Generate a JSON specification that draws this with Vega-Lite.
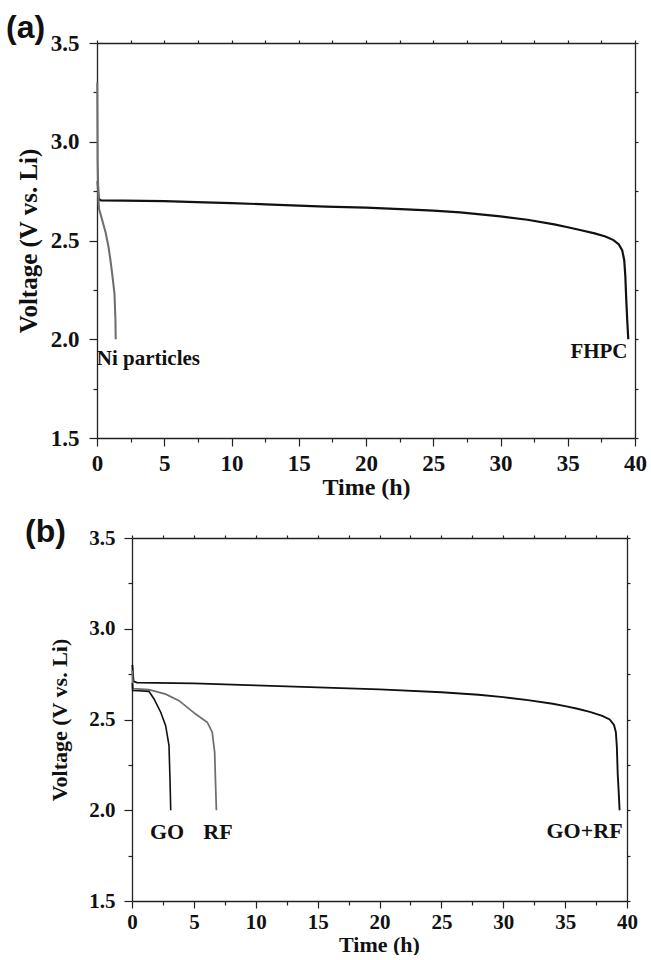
{
  "$schema": "https://vega.github.io/schema/vega-lite/v6.json",
  "padding": {"left": 6, "top": 12, "right": 0, "bottom": 0},
  "background": "white",
  "spacing": 17,
  "config": {
    "view": {"stroke": null},
    "axis": {
      "grid": false,
      "domainColor": "#222222",
      "domainWidth": 1.3,
      "tickColor": "#222222",
      "tickWidth": 1.2,
      "labelFont": "Liberation Serif",
      "labelFontWeight": "bold",
      "labelColor": "#111111",
      "titleFont": "Liberation Serif",
      "titleFontWeight": "bold",
      "titleColor": "#111111",
      "labelFlush": false,
      "labelOverlap": false
    },
    "text": {"font": "Liberation Serif", "fontWeight": "bold", "color": "#111111"}
  },
  "vconcat": [
    {
      "width": 538,
      "height": 395,
      "title": {"text": "(a)", "anchor": "start", "frame": "group", "font": "Liberation Sans", "fontSize": 32, "fontWeight": "bold", "color": "#111111", "dx": -91, "offset": -13},
      "resolve": {"axis": {"x": "independent", "y": "independent"}},
      "layer": [
        {
          "data": {"values": [
            {"series": "FHPC", "t": 0.05, "v": 2.80},
            {"series": "FHPC", "t": 0.12, "v": 2.71},
            {"series": "FHPC", "t": 0.3, "v": 2.703},
            {"series": "FHPC", "t": 2, "v": 2.702},
            {"series": "FHPC", "t": 5, "v": 2.699},
            {"series": "FHPC", "t": 8, "v": 2.693},
            {"series": "FHPC", "t": 10, "v": 2.689},
            {"series": "FHPC", "t": 13, "v": 2.682},
            {"series": "FHPC", "t": 17, "v": 2.672},
            {"series": "FHPC", "t": 20, "v": 2.666},
            {"series": "FHPC", "t": 23, "v": 2.658},
            {"series": "FHPC", "t": 25, "v": 2.651},
            {"series": "FHPC", "t": 27, "v": 2.642},
            {"series": "FHPC", "t": 30, "v": 2.622},
            {"series": "FHPC", "t": 32, "v": 2.605},
            {"series": "FHPC", "t": 34, "v": 2.582},
            {"series": "FHPC", "t": 35, "v": 2.567},
            {"series": "FHPC", "t": 36, "v": 2.552},
            {"series": "FHPC", "t": 37, "v": 2.536},
            {"series": "FHPC", "t": 37.8, "v": 2.52},
            {"series": "FHPC", "t": 38.4, "v": 2.502},
            {"series": "FHPC", "t": 38.8, "v": 2.48},
            {"series": "FHPC", "t": 39.05, "v": 2.45},
            {"series": "FHPC", "t": 39.2, "v": 2.40},
            {"series": "FHPC", "t": 39.28, "v": 2.32},
            {"series": "FHPC", "t": 39.35, "v": 2.2},
            {"series": "FHPC", "t": 39.42, "v": 2.1},
            {"series": "FHPC", "t": 39.5, "v": 2.0},
            {"series": "Ni particles", "t": 0.02, "v": 3.3},
            {"series": "Ni particles", "t": 0.05, "v": 2.9},
            {"series": "Ni particles", "t": 0.1, "v": 2.72},
            {"series": "Ni particles", "t": 0.15, "v": 2.66},
            {"series": "Ni particles", "t": 0.4, "v": 2.6},
            {"series": "Ni particles", "t": 0.64, "v": 2.54},
            {"series": "Ni particles", "t": 0.85, "v": 2.47},
            {"series": "Ni particles", "t": 1.0, "v": 2.40},
            {"series": "Ni particles", "t": 1.15, "v": 2.32},
            {"series": "Ni particles", "t": 1.3, "v": 2.23},
            {"series": "Ni particles", "t": 1.37, "v": 2.1},
            {"series": "Ni particles", "t": 1.39, "v": 2.0}
          ]},
          "mark": {"type": "line"},
          "encoding": {
            "x": {"field": "t", "type": "quantitative", "scale": {"domain": [0, 40], "nice": false, "zero": false},
              "axis": {"orient": "bottom", "title": "Time (h)", "values": [0, 2.5, 5, 7.5, 10, 12.5, 15, 17.5, 20, 22.5, 25, 27.5, 30, 32.5, 35, 37.5, 40],
                "labelExpr": "datum.value % 5 === 0 ? format(datum.value, 'd') : ''",
                "tickSize": {"condition": {"test": "datum.value % 5 === 0", "value": 8}, "value": 4},
                "labelPadding": 6, "titlePadding": 0, "labelFontSize": 23, "titleFontSize": 24}},
            "y": {"field": "v", "type": "quantitative", "scale": {"domain": [1.5, 3.5], "nice": false, "zero": false},
              "axis": {"orient": "left", "title": "Voltage (V vs. Li)", "values": [1.5, 1.75, 2.0, 2.25, 2.5, 2.75, 3.0, 3.25, 3.5],
                "labelExpr": "round(datum.value * 4) % 2 === 0 ? format(datum.value, '.1f') : ''",
                "tickSize": {"condition": {"test": "round(datum.value * 4) % 2 === 0", "value": 8}, "value": 4},
                "labelPadding": 10, "titleX": -56, "titleBaseline": "bottom", "labelFontSize": 23, "titleFontSize": 25}},
            "color": {"field": "series", "type": "nominal", "scale": {"domain": ["FHPC", "Ni particles"], "range": ["#111111", "#6e6e6e"]}, "legend": null},
            "strokeWidth": {"field": "series", "type": "nominal", "scale": {"domain": ["FHPC", "Ni particles"], "range": [2.2, 1.6]}, "legend": null}
          }
        },
        {
          "data": {"values": [
            {"label": "Ni particles", "t": 3.82, "v": 1.87},
            {"label": "FHPC", "t": 37.32, "v": 1.904}
          ]},
          "mark": {"type": "text", "align": "center", "baseline": "alphabetic", "fontSize": 21},
          "encoding": {
            "x": {"field": "t", "type": "quantitative", "scale": {"domain": [0, 40], "nice": false, "zero": false},
              "axis": {"orient": "top", "title": null, "labels": false, "values": [0, 2.5, 5, 7.5, 10, 12.5, 15, 17.5, 20, 22.5, 25, 27.5, 30, 32.5, 35, 37.5, 40], "tickSize": 3}},
            "y": {"field": "v", "type": "quantitative", "scale": {"domain": [1.5, 3.5], "nice": false, "zero": false},
              "axis": {"orient": "right", "title": null, "labels": false, "values": [1.5, 1.75, 2.0, 2.25, 2.5, 2.75, 3.0, 3.25, 3.5], "tickSize": 3}},
            "text": {"field": "label", "type": "nominal"}
          }
        }
      ]
    },
    {
      "width": 530,
      "height": 363,
      "title": {"text": "(b)", "anchor": "start", "frame": "group", "font": "Liberation Sans", "fontSize": 32, "fontWeight": "bold", "color": "#111111", "dx": -72, "offset": -22},
      "resolve": {"axis": {"x": "independent", "y": "independent"}},
      "layer": [
        {
          "data": {"values": [
            {"series": "GO+RF", "t": 0.03, "v": 2.80},
            {"series": "GO+RF", "t": 0.12, "v": 2.71},
            {"series": "GO+RF", "t": 0.4, "v": 2.703},
            {"series": "GO+RF", "t": 2, "v": 2.702},
            {"series": "GO+RF", "t": 5, "v": 2.699},
            {"series": "GO+RF", "t": 10, "v": 2.688},
            {"series": "GO+RF", "t": 15, "v": 2.677},
            {"series": "GO+RF", "t": 20, "v": 2.666},
            {"series": "GO+RF", "t": 25, "v": 2.65},
            {"series": "GO+RF", "t": 28, "v": 2.636},
            {"series": "GO+RF", "t": 30, "v": 2.623},
            {"series": "GO+RF", "t": 32, "v": 2.607},
            {"series": "GO+RF", "t": 34, "v": 2.587},
            {"series": "GO+RF", "t": 35, "v": 2.574},
            {"series": "GO+RF", "t": 36, "v": 2.559},
            {"series": "GO+RF", "t": 37, "v": 2.542},
            {"series": "GO+RF", "t": 38, "v": 2.52},
            {"series": "GO+RF", "t": 38.6, "v": 2.50},
            {"series": "GO+RF", "t": 38.95, "v": 2.47},
            {"series": "GO+RF", "t": 39.1, "v": 2.43},
            {"series": "GO+RF", "t": 39.18, "v": 2.35},
            {"series": "GO+RF", "t": 39.25, "v": 2.2},
            {"series": "GO+RF", "t": 39.33, "v": 2.1},
            {"series": "GO+RF", "t": 39.4, "v": 2.0},
            {"series": "RF", "t": 0.02, "v": 2.77},
            {"series": "RF", "t": 0.08, "v": 2.67},
            {"series": "RF", "t": 1.37, "v": 2.665},
            {"series": "RF", "t": 2.72, "v": 2.64},
            {"series": "RF", "t": 3.8, "v": 2.604},
            {"series": "RF", "t": 5.14, "v": 2.53},
            {"series": "RF", "t": 6.08, "v": 2.485},
            {"series": "RF", "t": 6.48, "v": 2.43},
            {"series": "RF", "t": 6.68, "v": 2.32},
            {"series": "RF", "t": 6.75, "v": 2.15},
            {"series": "RF", "t": 6.82, "v": 2.0},
            {"series": "GO", "t": 0.02, "v": 2.70},
            {"series": "GO", "t": 0.05, "v": 2.66},
            {"series": "GO", "t": 0.5, "v": 2.658},
            {"series": "GO", "t": 1.37, "v": 2.655},
            {"series": "GO", "t": 1.78, "v": 2.613},
            {"series": "GO", "t": 2.32, "v": 2.54},
            {"series": "GO", "t": 2.72, "v": 2.466},
            {"series": "GO", "t": 2.99, "v": 2.356},
            {"series": "GO", "t": 3.07, "v": 2.17},
            {"series": "GO", "t": 3.13, "v": 2.0}
          ]},
          "mark": {"type": "line"},
          "encoding": {
            "x": {"field": "t", "type": "quantitative", "scale": {"domain": [0, 40], "range": [35, 530], "nice": false, "zero": false},
              "axis": {"orient": "bottom", "title": "Time (h)", "titleX": 282, "values": [0, 2.5, 5, 7.5, 10, 12.5, 15, 17.5, 20, 22.5, 25, 27.5, 30, 32.5, 35, 37.5, 40],
                "labelExpr": "datum.value % 5 === 0 ? format(datum.value, 'd') : ''",
                "tickSize": {"condition": {"test": "datum.value % 5 === 0", "value": 7}, "value": 4},
                "labelPadding": 3, "titlePadding": 2, "labelFontSize": 21, "titleFontSize": 22}},
            "y": {"field": "v", "type": "quantitative", "scale": {"domain": [1.5, 3.5], "nice": false, "zero": false},
              "axis": {"orient": "left", "offset": -35, "title": "Voltage (V vs. Li)", "values": [1.5, 1.75, 2.0, 2.25, 2.5, 2.75, 3.0, 3.25, 3.5],
                "labelExpr": "round(datum.value * 4) % 2 === 0 ? format(datum.value, '.1f') : ''",
                "tickSize": {"condition": {"test": "round(datum.value * 4) % 2 === 0", "value": 8}, "value": 4},
                "labelPadding": 9, "titleX": -61, "titleBaseline": "bottom", "labelFontSize": 21, "titleFontSize": 22}},
            "color": {"field": "series", "type": "nominal", "scale": {"domain": ["GO+RF", "RF", "GO"], "range": ["#111111", "#bdbdbd", "#555555"]}, "legend": null},
            "strokeWidth": {"field": "series", "type": "nominal", "scale": {"domain": ["GO+RF", "RF", "GO"], "range": [2.2, 1.8, 1.8]}, "legend": null}
          }
        },
        {
          "data": {"values": [
            {"label": "GO", "t": 2.83, "v": 1.842},
            {"label": "RF", "t": 6.95, "v": 1.842},
            {"label": "GO+RF", "t": 36.57, "v": 1.847}
          ]},
          "mark": {"type": "text", "align": "center", "baseline": "alphabetic", "fontSize": 22},
          "encoding": {
            "x": {"field": "t", "type": "quantitative", "scale": {"domain": [0, 40], "range": [35, 530], "nice": false, "zero": false},
              "axis": {"orient": "top", "title": null, "labels": false, "values": [0, 2.5, 5, 7.5, 10, 12.5, 15, 17.5, 20, 22.5, 25, 27.5, 30, 32.5, 35, 37.5, 40], "tickSize": 3}},
            "y": {"field": "v", "type": "quantitative", "scale": {"domain": [1.5, 3.5], "nice": false, "zero": false},
              "axis": {"orient": "right", "title": null, "labels": false, "values": [1.5, 1.75, 2.0, 2.25, 2.5, 2.75, 3.0, 3.25, 3.5], "tickSize": 3}},
            "text": {"field": "label", "type": "nominal"}
          }
        }
      ]
    }
  ]
}
